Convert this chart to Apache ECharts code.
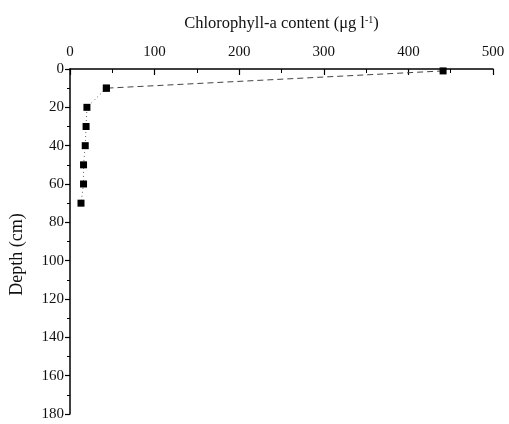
<!DOCTYPE html>
<html>
<head>
  <meta charset='utf-8'>
  <script src="https://cdn.jsdelivr.net/npm/echarts@6/dist/echarts.min.js"></script>
  <title>Chlorophyll-a profile</title>
</head>
<body style="margin:0;background:#fff;">
<div id="main" style="width:509px;height:424px;"></div>
<script type="text/javascript">
  // 读图得到的数据：叶绿素a含量 vs 深度
  var depthTop = [1, 10];
  var chlTop = [441, 43];
  var depthDeep = [10, 20, 30, 40, 50, 60, 70];
  var chlDeep = [43, 20, 19, 18, 16, 16, 13];

  var xTicks = [0, 100, 200, 300, 400, 500];
  var yTicks = [0, 20, 40, 60, 80, 100, 120, 140, 160, 180];

  function pairs(xs, ys) {
    return xs.map(function (x, i) { return [x, ys[i]]; });
  }

  var serif = 'Liberation Serif';
  var chart = echarts.init(document.getElementById('main'));

  var option = {
    backgroundColor: '#fff',
    animation: false,
    grid: { left: 69, right: 16, top: 69, bottom: 10 },
    xAxis: {
      type: 'value',
      position: 'top',
      min: xTicks[0],
      max: xTicks[xTicks.length - 1],
      interval: 100,
      name: 'Chlorophyll-a content (μg l{sup|-1})',
      nameLocation: 'middle',
      nameGap: 36,
      nameTextStyle: {
        fontFamily: serif, fontSize: 16.5, color: '#111',
        rich: { sup: { fontFamily: serif, fontSize: 10, color: '#111', verticalAlign: 'top', padding: [0, 0, 8, 0] } }
      },
      axisLine: { lineStyle: { color: '#000', width: 1.5 } },
      axisTick: { inside: true, length: 6, lineStyle: { color: '#000', width: 1.2 } },
      minorTick: { show: true, splitNumber: 2, length: 4, lineStyle: { color: '#000', width: 1 } },
      axisLabel: { fontFamily: serif, fontSize: 15, color: '#111', margin: 9 },
      splitLine: { show: false }
    },
    yAxis: {
      type: 'value',
      inverse: true,
      min: yTicks[0],
      max: yTicks[yTicks.length - 1],
      interval: 20,
      name: 'Depth (cm)',
      nameLocation: 'middle',
      nameGap: 44,
      nameTextStyle: { fontFamily: serif, fontSize: 18, color: '#111', padding: [0, 26, 0, 0] },
      axisLine: { lineStyle: { color: '#000', width: 1.5 } },
      axisTick: { inside: false, length: 5, lineStyle: { color: '#000', width: 1.2 } },
      minorTick: { show: true, splitNumber: 2, length: 3, lineStyle: { color: '#000', width: 1 } },
      axisLabel: { fontFamily: serif, fontSize: 15, color: '#111', margin: 6 },
      splitLine: { show: false }
    },
    series: [{
      type: 'line',
      data: pairs(chlTop, depthTop),
      symbol: 'rect',
      symbolSize: 7,
      itemStyle: { color: '#000' },
      lineStyle: { color: '#444', width: 1, type: [6, 4] }
    }, {
      type: 'line',
      data: pairs(chlDeep, depthDeep),
      symbol: 'rect',
      symbolSize: 7,
      itemStyle: { color: '#000' },
      lineStyle: { color: '#666', width: 1, type: [1, 3] }
    }]
  };

  chart.setOption(option);
</script>
</body>
</html>
